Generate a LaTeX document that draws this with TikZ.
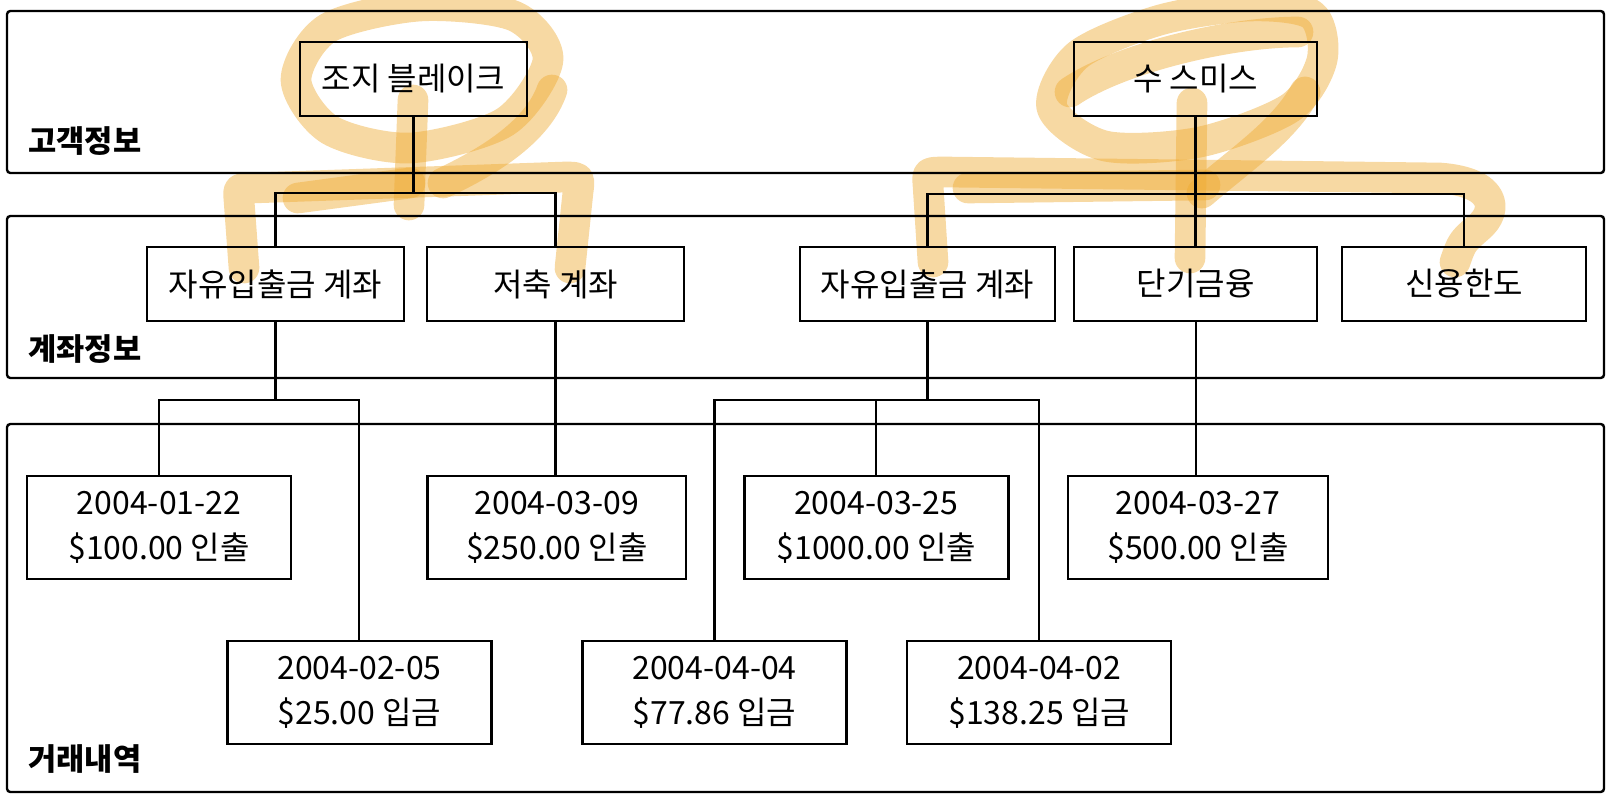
\documentclass[tikz,border=0pt]{standalone}
\usepackage{fontspec}
\setmainfont{Noto Sans CJK KR}

\tikzset{every picture/.style={line width=0.75pt}}
\tikzset{
  tierframe/.style={line width=1.8pt, rounded corners=2.5pt},
  tierlabel/.style={anchor=base west, inner sep=0pt, font=\fontsize{23}{28}\selectfont\bfseries},
  namebox/.style={draw, line width=1.8pt, minimum height=55.5pt, inner sep=0pt, font=\fontsize{24}{30}\selectfont},
  tranbox/.style={draw, line width=1.8pt, minimum width=198pt, minimum height=77.25pt, inner sep=0pt, align=center, font=\fontsize{24}{34}\selectfont},
  conn/.style={line width=1.6pt},
  marker/.style={draw={rgb, 255:red, 238; green, 170; blue, 50}, draw opacity=0.45, line width=23pt, line cap=round, line join=round}
}

\begin{document}
\begin{tikzpicture}[x=0.75pt,y=0.75pt,yscale=-1,xscale=1]
\useasboundingbox (0,0) rectangle (1612,802);

%Highlighter: George Blake
\draw [marker] plot [smooth cycle] coordinates {(548,60) (514,16) (420,6) (328,28) (296,80) (330,130) (410,148) (505,122)};
\draw [marker] (552,90) .. controls (538,130) and (492,160) .. (443,183);
\draw [marker] (413,100) -- (409,205);
\draw [marker] (298,198) -- (410,183);
\draw [marker] (244,268) -- (239,200) .. controls (238,188) .. (252,188) -- (565,177) .. controls (580,177) .. (578,192) -- (570,268);
%Highlighter: Sue Smith
\draw [marker] plot [smooth cycle] coordinates {(1052,108) (1078,55) (1160,20) (1250,6) (1312,15) (1322,60) (1290,108) (1200,142) (1105,146)};
\draw [marker] (1070,92) .. controls (1120,58) and (1230,32) .. (1298,32);
\draw [marker] (1305,92) .. controls (1285,130) and (1240,160) .. (1202,193);
\draw [marker] (1192,103) -- (1190,258);
\draw [marker] (933,262) -- (928,185) .. controls (927,172) .. (945,172) -- (1440,178) .. controls (1495,182) and (1500,210) .. (1478,228) .. controls (1462,242) .. (1455,262);
\draw [marker] (968,188) -- (1205,185);

%Tiers
\draw [tierframe] (7,11) rectangle (1604,173);
\draw [tierframe] (7,216) rectangle (1604,378);
\draw [tierframe] (7,424) rectangle (1604,792);
\node [tierlabel] (lcust) at (28,153) {고객정보};
\node [tierlabel] (lacct) at (28,360) {계좌정보};
\node [tierlabel] (ltran) at (28,770) {거래내역};

%Customers
\node [namebox, minimum width=170.25pt] (c1) at (413.5,79) {조지 블레이크};
\node [namebox, minimum width=182.25pt] (c2) at (1195.5,79) {수 스미스};

%Accounts
\node [namebox, minimum width=192.75pt] (a1) at (275.5,284) {자유입출금 계좌};
\node [namebox, minimum width=192.75pt] (a2) at (555.5,284) {저축 계좌};
\node [namebox, minimum width=191.25pt] (a3) at (927.5,284) {자유입출금 계좌};
\node [namebox, minimum width=182.25pt] (a4) at (1195.7,284) {단기금융};
\node [namebox, minimum width=183pt] (a5) at (1464,284) {신용한도};

%Transactions
\node [tranbox] (t1) at (159,527.3) {2004-01-22\\\$100.00 인출};
\node [tranbox] (t2) at (359.4,692.4) {2004-02-05\\\$25.00 입금};
\node [tranbox, minimum width=194pt] (t3) at (556.8,527.3) {2004-03-09\\\$250.00 인출};
\node [tranbox] (t4) at (876.3,527.3) {2004-03-25\\\$1000.00 인출};
\node [tranbox, minimum width=195pt] (t5) at (1198,527.3) {2004-03-27\\\$500.00 인출};
\node [tranbox] (t6) at (714.5,692.4) {2004-04-04\\\$77.86 입금};
\node [tranbox] (t7) at (1039.2,692.4) {2004-04-02\\\$138.25 입금};

%Connectors
\coordinate (j1) at (413.5,193);
\coordinate (j2) at (1195.5,194);
\coordinate (j3) at (275.5,400);
\coordinate (j4) at (927.5,400);
\draw [conn] (c1.south) -- (j1);
\draw [conn] (a1.north) |- (j1) -| (a2.north);
\draw [conn] (c2.south) -- (j2);
\draw [conn] (a3.north) |- (j2) -| (a5.north);
\draw [conn] (j2) -- (j2 |- a4.north);
\draw [conn] (a1.south) -- (j3);
\draw [conn] (t1.north) |- (j3) -| (t2.north);
\draw [conn] (a2.south) -- (a2.south |- t3.north);
\draw [conn] (a3.south) -- (j4);
\draw [conn] (t6.north) |- (j4) -| (t7.north);
\draw [conn] (t4.north) -- (t4.north |- j4);
\draw [conn] (a4.south) -- (a4.south |- t5.north);

\end{tikzpicture}
\end{document}
